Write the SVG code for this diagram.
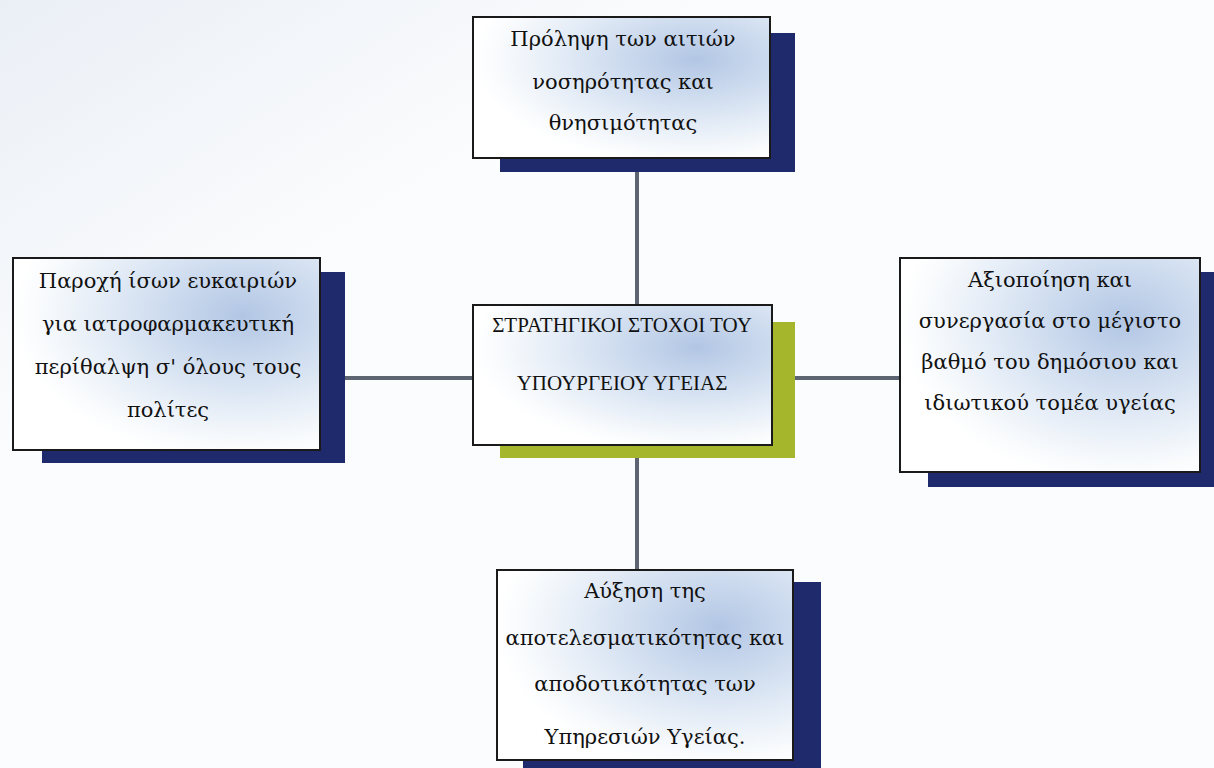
<svg xmlns="http://www.w3.org/2000/svg" width="1214" height="768" viewBox="0 0 1214 768">
<defs>
<radialGradient id="boxfill" cx="0.75" cy="0.3" r="0.75">
<stop offset="0" stop-color="#b2c6e4"/>
<stop offset="0.45" stop-color="#d6e2f2"/>
<stop offset="0.85" stop-color="#f6f9fc"/>
<stop offset="1" stop-color="#ffffff"/>
</radialGradient>
<linearGradient id="bg" x1="0" y1="0" x2="1" y2="1">
<stop offset="0" stop-color="#eaeff6"/>
<stop offset="0.3" stop-color="#fbfcfd"/>
<stop offset="1" stop-color="#fbfcfd"/>
</linearGradient>
</defs>
<style>
.box{fill:url(#boxfill);stroke:#1a1a1a;stroke-width:2}
.navy{fill:#1f2a6c}
.olive{fill:#a6b62c}
.conn{stroke:#5d6472;stroke-width:4;fill:none}
.t{font-family:"DejaVu Serif","Liberation Serif",serif;font-size:21px;fill:#111;text-anchor:middle}
.c{font-family:"Liberation Serif","DejaVu Serif",serif;font-size:21px;fill:#111;text-anchor:middle}
</style>
<rect width="1214" height="768" fill="url(#bg)"/>
<g id="connectors">
<line class="conn" x1="637" y1="170" x2="637" y2="305"/>
<line class="conn" x1="345" y1="378" x2="473" y2="378"/>
<line class="conn" x1="795" y1="378" x2="900" y2="378"/>
<line class="conn" x1="637" y1="458" x2="637" y2="570"/>
</g>
<g id="node-top">
<rect class="navy" x="500" y="33" width="295" height="139"/>
<rect class="box" x="473" y="17" width="297" height="141"/>
<text class="t" x="623" y="46">Πρόληψη των αιτιών</text>
<text class="t" x="623" y="89">νοσηρότητας και</text>
<text class="t" x="623" y="130">θνησιμότητας</text>
</g>
<g id="node-left">
<rect class="navy" x="42" y="272" width="303" height="191"/>
<rect class="box" x="13" y="258" width="307" height="192"/>
<text class="t" x="168" y="288">Παροχή ίσων ευκαιριών</text>
<text class="t" x="168" y="331">για ιατροφαρμακευτική</text>
<text class="t" x="168" y="374">περίθαλψη σ' όλους τους</text>
<text class="t" x="168" y="417">πολίτες</text>
</g>
<g id="node-center">
<rect class="olive" x="500" y="322" width="295" height="136"/>
<rect class="box" x="473" y="305" width="299" height="140"/>
<text class="c" x="622" y="332">ΣΤΡΑΤΗΓΙΚΟΙ ΣΤΟΧΟΙ ΤΟΥ</text>
<text class="c" x="622" y="390">ΥΠΟΥΡΓΕΙΟΥ ΥΓΕΙΑΣ</text>
</g>
<g id="node-right">
<rect class="navy" x="928" y="272" width="290" height="215"/>
<rect class="box" x="900" y="258" width="300" height="214"/>
<text class="t" x="1050" y="287">Αξιοποίηση και</text>
<text class="t" x="1050" y="328">συνεργασία στο μέγιστο</text>
<text class="t" x="1050" y="369">βαθμό του δημόσιου και</text>
<text class="t" x="1050" y="410">ιδιωτικού τομέα υγείας</text>
</g>
<g id="node-bottom">
<rect class="navy" x="523" y="582" width="298" height="195"/>
<rect class="box" x="497" y="570" width="296" height="190"/>
<text class="t" x="645" y="598">Αύξηση της</text>
<text class="t" x="645" y="645">αποτελεσματικότητας και</text>
<text class="t" x="645" y="691">αποδοτικότητας των</text>
<text class="t" x="645" y="744">Υπηρεσιών Υγείας.</text>
</g>
</svg>
